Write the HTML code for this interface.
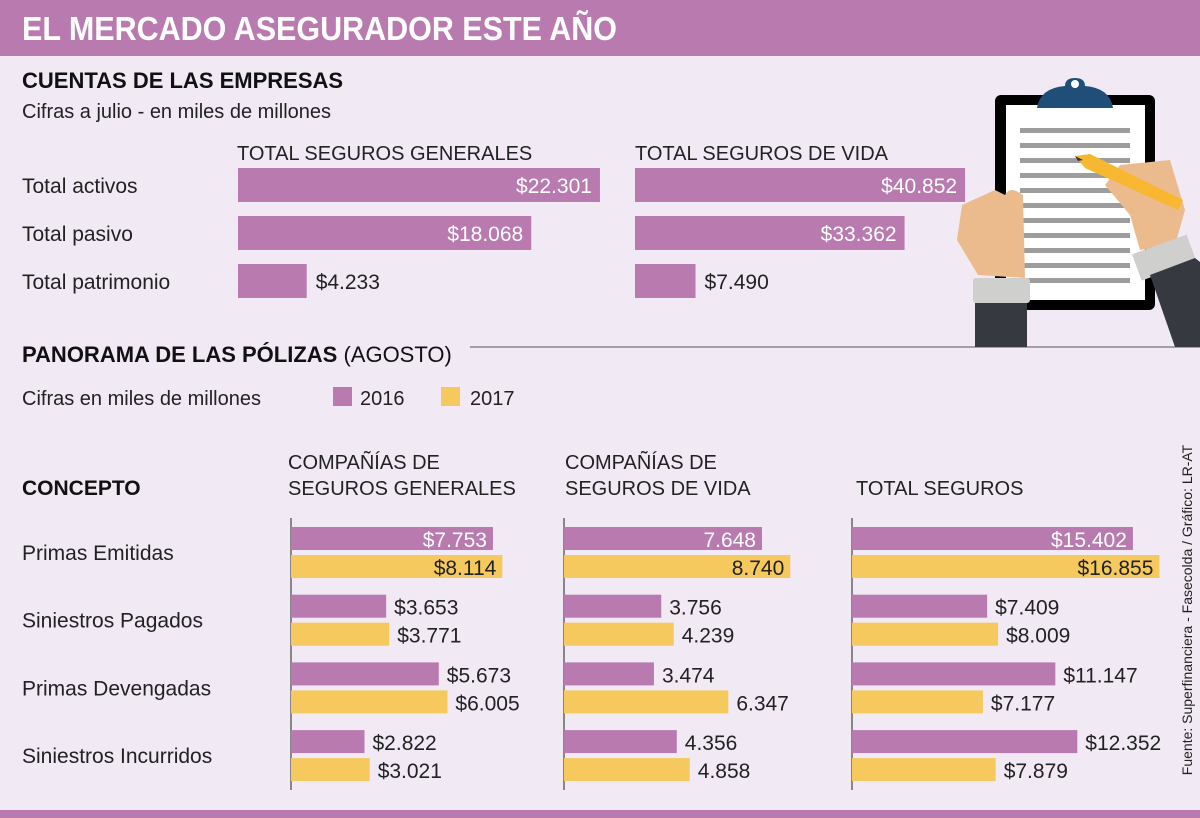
<!DOCTYPE html>
<html><head><meta charset="utf-8"><style>
body{margin:0;background:#f1e9f4}
svg{display:block}
text{font-family:"Liberation Sans",sans-serif}
</style></head><body>
<svg id="c" width="1200" height="818" viewBox="0 0 1200 818">
<rect x="0" y="0" width="1200" height="818" fill="#f1e9f4"/>
<rect x="0" y="0" width="1200" height="56" fill="#b97ab0"/>
<text x="22" y="40" fill="#fff" font-size="33" font-weight="bold" textLength="595" lengthAdjust="spacingAndGlyphs">EL MERCADO ASEGURADOR ESTE AÑO</text>
<text x="22" y="88" font-size="22" font-weight="bold" fill="#111">CUENTAS DE LAS EMPRESAS</text>
<text x="22" y="118" font-size="20" fill="#222">Cifras a julio - en miles de millones</text>
<text x="237" y="160" font-size="20" fill="#222">TOTAL SEGUROS GENERALES</text>
<text x="635" y="160" font-size="20" fill="#222">TOTAL SEGUROS DE VIDA</text>
<line x1="470" y1="347" x2="1200" y2="347" stroke="#888" stroke-width="1.5"/>
<text x="22" y="362" font-size="22" fill="#111"><tspan font-weight="bold">PANORAMA DE LAS PÓLIZAS</tspan> (AGOSTO)</text>
<text x="22" y="405" font-size="20" fill="#222">Cifras en miles de millones</text>
<rect x="333" y="387" width="19" height="19" fill="#b97ab0"/>
<text x="360" y="405" font-size="20" fill="#222">2016</text>
<rect x="441" y="387" width="19" height="19" fill="#f5c95d"/>
<text x="470" y="405" font-size="20" fill="#222">2017</text>
<text x="22" y="495" font-size="21" font-weight="bold" fill="#111">CONCEPTO</text>
<text x="288" y="469" font-size="20" fill="#222"><tspan x="288">COMPAÑÍAS DE</tspan><tspan x="288" y="495">SEGUROS GENERALES</tspan></text>
<text x="565" y="469" font-size="20" fill="#222"><tspan x="565">COMPAÑÍAS DE</tspan><tspan x="565" y="495">SEGUROS DE VIDA</tspan></text>
<text x="856" y="495" font-size="20" fill="#222">TOTAL SEGUROS</text>
<text transform="translate(1192,610) rotate(-90)" text-anchor="middle" font-size="14" fill="#222">Fuente: Superfinanciera - Fasecolda / Gráfico: LR-AT</text>
<rect x="0" y="810" width="1200" height="8" fill="#b97ab0"/>
<g>
<rect x="995" y="95" width="160" height="215" rx="6" fill="#000"/>
<rect x="1006" y="105" width="139" height="195" fill="#fff"/>
<path d="M1037 108 Q1040 88 1065 86 Q1065 78 1075 78 Q1085 78 1085 86 Q1110 88 1113 108 Z" fill="#1f4e79"/>
<circle cx="1075" cy="84" r="4" fill="#fff"/>
<g fill="#9d9d9d">
<rect x="1020" y="128" width="110" height="5"/><rect x="1020" y="143" width="110" height="5"/><rect x="1020" y="158" width="110" height="5"/><rect x="1020" y="173" width="110" height="5"/><rect x="1020" y="188" width="110" height="5"/><rect x="1020" y="203" width="110" height="5"/><rect x="1020" y="218" width="110" height="5"/><rect x="1020" y="233" width="110" height="5"/><rect x="1020" y="248" width="110" height="5"/><rect x="1020" y="263" width="110" height="5"/><rect x="1020" y="278" width="110" height="5"/>
</g>
<path d="M995 190 L962 205 L957 240 L978 275 L1025 278 L1023 195 Q1010 185 1005 195 Z" fill="#ebbb8e"/>
<rect x="973" y="278" width="57" height="25" rx="3" fill="#cfcfcd"/>
<rect x="975" y="303" width="52" height="44" fill="#363940"/>
<path d="M1120 165 L1170 160 L1185 210 L1175 245 L1140 250 L1130 215 L1105 185 Z" fill="#ebbb8e"/>
<path d="M1075 156 L1090 154 L1183 200 L1178 210 L1085 168 Z" fill="#f7b731"/>
<path d="M1075 156 L1083 160 L1078 161 Z" fill="#333"/>
<rect x="1135" y="245" width="58" height="28" fill="#cfcfcd" transform="rotate(-20 1160 258)"/>
<path d="M1150 275 L1195 258 L1200 262 L1200 347 L1175 347 Z" fill="#363940"/>
</g>
<g id="top"></g>
<g id="bottom"></g>
</svg>
<script>
// Top section data
const topRows = ["Total activos","Total pasivo","Total patrimonio"];
const topGenerales = [22301,18068,4233];
const topVida = [40852,33362,7490];
// Bottom section data
const concepts = ["Primas Emitidas","Siniestros Pagados","Primas Devengadas","Siniestros Incurridos"];
const gen2016 = [7753,3653,5673,2822];
const gen2017 = [8114,3771,6005,3021];
const vida2016 = [7648,3756,3474,4356];
const vida2017 = [8740,4239,6347,4858];
const tot2016 = [15402,7409,11147,12352];
const tot2017 = [16855,8009,7177,7879];

const NS="http://www.w3.org/2000/svg";
function el(tag,attrs,parent,txt){const e=document.createElementNS(NS,tag);for(const k in attrs)e.setAttribute(k,attrs[k]);if(txt!==undefined)e.textContent=txt;parent.appendChild(e);return e;}
function fmt(v){return v.toLocaleString('de-DE');}
const gTop=document.getElementById('top');
const gBot=document.getElementById('bottom');

// top
const topY=i=>168+i*48;
const xGen=v=>v*0.01623, xVida=v=>v*0.00808;
topRows.forEach((r,i)=>{
  const t=el('text',{x:22,y:topY(i)+25,'font-size':21,fill:'#222'},gTop,r);
  
  
  [[topGenerales,238,xGen,'generales'],[topVida,635,xVida,'vida']].forEach(([arr,x0,sc,nm])=>{
    const w=sc(arr[i]);
    const b=el('rect',{x:x0,y:topY(i),width:w,height:34,fill:'#b97ab0'},gTop);
    
    
    const inside=w>150;
    const lt=el('text',{x:inside?x0+w-8:x0+w+9,y:topY(i)+25,'font-size':21,fill:inside?'#fff':'#222','text-anchor':inside?'end':'start'},gTop,'$'+fmt(arr[i]));
    
    
  });
});

// bottom
const cols=[[gen2016,gen2017,291,v=>v*0.02605,'$','generales'],[vida2016,vida2017,564,v=>v*0.02589,'','vida'],[tot2016,tot2017,852,v=>v*0.01824,'$','total']];
const rowY=i=>527+i*67.7;
concepts.forEach((c,i)=>{
  const t=el('text',{x:22,y:rowY(i)+33,'font-size':21,fill:'#222'},gBot,c);
  
  
});
cols.forEach(([a,b,x0,sc,pre,nm])=>{
  const ax=el('line',{x1:x0,y1:518,x2:x0,y2:790,stroke:'#666','stroke-width':1.5},gBot);
  
  
  concepts.forEach((c,i)=>{
    [[a,'#b97ab0',0,'2016','#fff'],[b,'#f5c95d',28,'2017','#222']].forEach(([arr,col,dy,yr,inCol])=>{
      const w=sc(arr[i]);const y=rowY(i)+dy;
      const r=el('rect',{x:x0,y:y,width:w,height:23,fill:col},gBot);
      
      
      const inside=i===0;
      const lt=el('text',{x:inside?x0+w-6:x0+w+8,y:y+20,'font-size':21,fill:inside?inCol:'#222','text-anchor':inside?'end':'start'},gBot,pre+fmt(arr[i]));
      
      
    });
  });
});
</script>
</body></html>
